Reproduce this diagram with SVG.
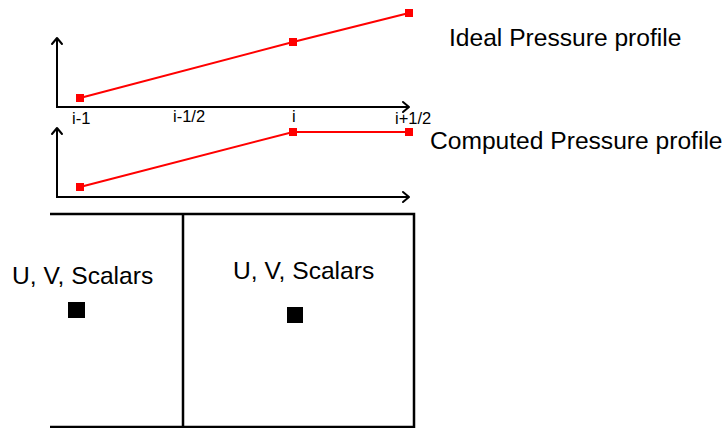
<svg xmlns="http://www.w3.org/2000/svg" width="727" height="428" viewBox="0 0 727 428">
<style>
.ax{stroke:#000;stroke-width:2;fill:none}
.ah{stroke:#000;stroke-width:2;fill:none;stroke-linecap:round;stroke-linejoin:round}
.red{stroke:#f00;stroke-width:2;fill:none}
.pt{fill:#f00}
.cell{stroke:#000;stroke-width:2.5;fill:none}
.t{font-family:"Liberation Sans",Arial,sans-serif;fill:#000}
.big{font-size:24.6px}
.sm{font-size:16.5px}
</style>
<rect width="727" height="428" fill="#fff"/>
<g id="ideal-plot">
<path class="ax" d="M57,38 V107 H409"/>
<path class="ah" d="M52,44 L57,38 L62,44"/>
<path class="ah" d="M403,102 L409,107 L403,112"/>
<polyline class="red" points="80,98 293,42 409,13"/>
<rect class="pt" x="76" y="94" width="8" height="8"/>
<rect class="pt" x="289" y="38" width="8" height="8"/>
<rect class="pt" x="405" y="9" width="8" height="8"/>
<text class="t sm" x="72" y="124">i-1</text>
<text class="t sm" x="173" y="122">i-1/2</text>
<text class="t sm" x="292" y="122">i</text>
<text class="t sm" x="395" y="124">i+1/2</text>
</g>
<g id="computed-plot">
<path class="ax" d="M57,128 V197 H409"/>
<path class="ah" d="M52,134 L57,128 L62,134"/>
<path class="ah" d="M403,192 L409,197 L403,202"/>
<polyline class="red" points="80,187 293,132 409,132"/>
<rect class="pt" x="76" y="183" width="8" height="8"/>
<rect class="pt" x="289" y="128" width="8" height="8"/>
<rect class="pt" x="405" y="128" width="8" height="8"/>
</g>
<text id="ideal-label" class="t big" x="449" y="46">Ideal Pressure profile</text>
<text id="computed-label" class="t big" x="430" y="149">Computed Pressure profile</text>
<g id="cells">
<path class="cell" d="M50,214 H414 V427 H50 M183,214 V427"/>
</g>
<g id="cell-left">
<text class="t big" x="12" y="284">U, V, Scalars</text>
<rect x="68" y="302" width="17" height="16" fill="#000"/>
</g>
<g id="cell-right">
<text class="t big" x="233" y="279">U, V, Scalars</text>
<rect x="287" y="307" width="16" height="16" fill="#000"/>
</g>
</svg>
